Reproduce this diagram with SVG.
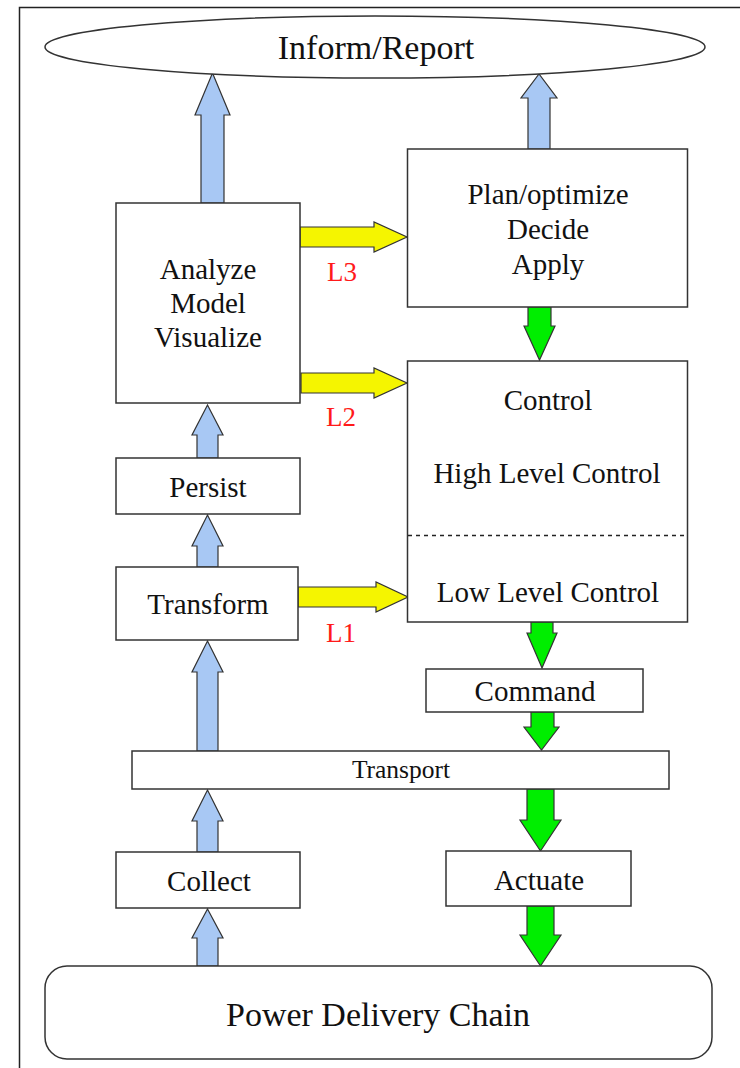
<svg xmlns="http://www.w3.org/2000/svg" width="740" height="1068" viewBox="0 0 740 1068">
  <style>
    .box { fill: #ffffff; stroke: #333333; stroke-width: 1.5; }
    .lbl { font-family: "Liberation Serif", "Times New Roman", serif; font-size: 29px; fill: #111111; text-anchor: middle; }
    .big { font-size: 34px; }
    .small { font-size: 25.5px; }
    .lvl { font-family: "Liberation Serif", "Times New Roman", serif; font-size: 27px; fill: #ff1a1a; }
    .up { fill: #a8c8f4; stroke: #333333; stroke-width: 1.2; stroke-linejoin: miter; }
    .down { fill: #00ee00; stroke: #333333; stroke-width: 1.2; }
    .side { fill: #f5f500; stroke: #333333; stroke-width: 1.2; }
  </style>

  <rect width="740" height="1068" fill="#ffffff"/>
  <!-- page frame -->
  <path d="M19.5,1068 V7.5 H740" fill="none" stroke="#222222" stroke-width="1.5"/>

  <!-- connectors -->
  <g id="connectors">
    <!-- upward data flow (blue) -->
    <polygon class="up" points="201,203 201,115 195,115 212.5,73 230,115 224,115 224,203"/>
    <polygon class="up" points="528,149 528,98 521,98 539,74 557,98 550,98 550,149"/>
    <polygon class="up" points="197,458 197,435 192,435 207.5,405 223,435 218,435 218,458"/>
    <polygon class="up" points="197,567 197,546 192,546 207.5,515 223,546 218,546 218,567"/>
    <polygon class="up" points="197,751 197,672 192,672 207.5,641 223,672 218,672 218,751"/>
    <polygon class="up" points="197,852 197,821 192,821 207.5,790 223,821 218,821 218,852"/>
    <polygon class="up" points="197,966 197,938 192,938 207.5,909 223,938 218,938 218,966"/>

    <!-- downward control flow (green) -->
    <polygon class="down" points="528,307 528,326 524,326 539.5,360 555,326 551,326 551,307"/>
    <polygon class="down" points="531,622 531,633 527,633 542,668 557,633 553,633 553,622"/>
    <polygon class="down" points="531,712 531,727 524,727 541.5,750 559,727 554,727 554,712"/>
    <polygon class="down" points="527,789 527,820 520,820 540.5,851 561,820 554,820 554,789"/>
    <polygon class="down" points="527,906 527,935 520,935 540.5,966 561,935 554,935 554,906"/>

    <!-- level links (yellow) -->
    <polygon class="side" points="300,227 374,227 374,222 407,237 374,252 374,247 300,247"/>
    <polygon class="side" points="301,373 374,373 374,368 407,383 374,398 374,393 301,393"/>
    <polygon class="side" points="298,587 376,587 376,582 408,597 376,612 376,607 298,607"/>
    <text class="lvl" x="327" y="281">L3</text>
    <text class="lvl" x="326" y="426">L2</text>
    <text class="lvl" x="326" y="642">L1</text>
  </g>

  <g id="inform">
    <ellipse class="box" cx="375" cy="47" rx="330" ry="31"/>
    <text class="lbl big" x="376" y="59">Inform/Report</text>
  </g>

  <g id="analyze">
    <rect class="box" x="116" y="203" width="184" height="200"/>
    <text class="lbl" x="208" y="279">Analyze</text>
    <text class="lbl" x="208" y="313">Model</text>
    <text class="lbl" x="208" y="347">Visualize</text>
  </g>

  <g id="plan">
    <rect class="box" x="407.5" y="149" width="280" height="158"/>
    <text class="lbl" x="548" y="204">Plan/optimize</text>
    <text class="lbl" x="548" y="239">Decide</text>
    <text class="lbl" x="548" y="274">Apply</text>
  </g>

  <g id="control">
    <rect class="box" x="407.5" y="361" width="280" height="261"/>
    <line x1="408" y1="535.5" x2="687" y2="535.5" stroke="#222222" stroke-width="1.5" stroke-dasharray="4 4"/>
    <text class="lbl" x="548" y="410">Control</text>
    <text class="lbl" x="547" y="483">High Level Control</text>
    <text class="lbl" x="548" y="602">Low Level Control</text>
  </g>

  <g id="persist">
    <rect class="box" x="116" y="458" width="184" height="56"/>
    <text class="lbl" x="208" y="497">Persist</text>
  </g>

  <g id="transform">
    <rect class="box" x="116" y="567" width="182" height="73"/>
    <text class="lbl" x="208" y="614">Transform</text>
  </g>

  <g id="command">
    <rect class="box" x="426" y="669" width="217" height="43"/>
    <text class="lbl" x="535" y="701">Command</text>
  </g>

  <g id="transport">
    <rect class="box" x="132" y="751" width="537" height="38"/>
    <text class="lbl small" x="401" y="778">Transport</text>
  </g>

  <g id="collect">
    <rect class="box" x="116" y="852" width="184" height="56"/>
    <text class="lbl" x="209" y="891">Collect</text>
  </g>

  <g id="actuate">
    <rect class="box" x="446" y="851" width="185" height="55"/>
    <text class="lbl" x="539" y="890">Actuate</text>
  </g>

  <g id="power">
    <rect class="box" x="45" y="966" width="667" height="93" rx="22" ry="22"/>
    <text class="lbl big" x="378" y="1026">Power Delivery Chain</text>
  </g>
</svg>
